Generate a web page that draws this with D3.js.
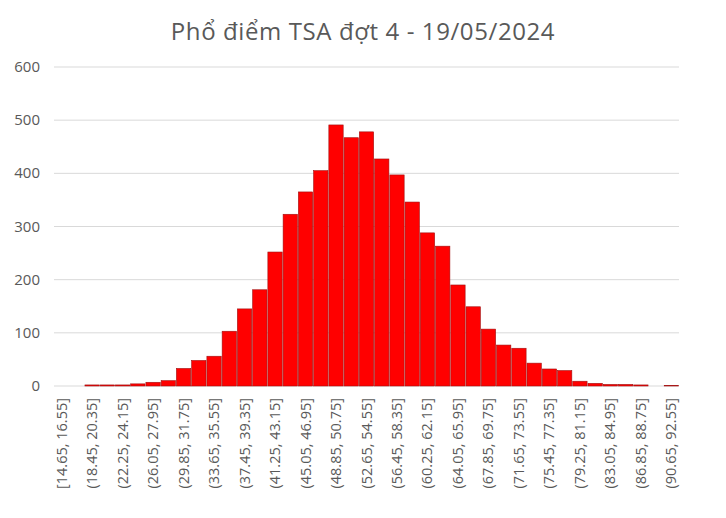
<!DOCTYPE html><html><head><meta charset="utf-8"><script src="https://cdn.jsdelivr.net/npm/d3@7"></script>
<style>body{margin:0;background:#fff}</style></head><body><svg id="c" width="726" height="518"></svg>
<script>
const title="Phổ điểm TSA đợt 4 - 19/05/2024";
const binStart=14.65, binWidth=1.9;
const values=[0,0,2,2,2,4,7,10,33,48,56,103,145,181,252,323,365,405,491,467,478,427,397,346,288,263,190,149,107,77,71,43,32,29,9,5,3,3,2,0,1];
const yTicks=[0,100,200,300,400,500,600];
const labels=values.map((v,i)=>{const a=(binStart+i*binWidth).toFixed(2),b=(binStart+(i+1)*binWidth).toFixed(2);return (i===0?"[":"(")+a+", "+b+"]";});
const svg=d3.select("#c");
const m={l:54,r:47,t:67,b:132};
const W=726-m.l-m.r,H=518-m.t-m.b;
const x=d3.scaleBand().domain(d3.range(values.length)).range([m.l,m.l+W]).paddingInner(0.06).paddingOuter(0.03);
const y=d3.scaleLinear().domain([0,600]).range([m.t+H,m.t]);
svg.append("text").attr("x",363).attr("y",40).attr("text-anchor","middle").attr("font-family","Open Sans, Noto Sans, sans-serif").attr("font-size",24).attr("letter-spacing",0.6).attr("fill","#595959").text(title);
svg.selectAll(".g").data(yTicks).join("line").attr("x1",m.l).attr("x2",m.l+W).attr("y1",d=>y(d)).attr("y2",d=>y(d)).attr("stroke","#d9d9d9");
svg.selectAll(".yl").data(yTicks).join("text").attr("x",40).attr("y",d=>y(d)+5).attr("text-anchor","end").attr("font-family","Open Sans, Noto Sans, sans-serif").attr("font-size",15).attr("fill","#595959").text(d=>d);
svg.selectAll(".b").data(values).join("rect").attr("x",(d,i)=>x(i)).attr("width",x.bandwidth()).attr("y",d=>y(d)).attr("height",d=>y(0)-y(d)).attr("fill","#ff0000").attr("stroke","#a01010").attr("stroke-width",0.6);
svg.selectAll(".xl").data(labels.filter((d,i)=>i%2===0)).join("text")
 .attr("transform",(d,k)=>`translate(${x(k*2)+x.bandwidth()/2+5},${y(0)+12}) rotate(-90)`)
 .attr("text-anchor","end").attr("font-family","Open Sans, Noto Sans, sans-serif").attr("font-size",14.5).attr("fill","#595959").text(d=>d);
</script></body></html>
